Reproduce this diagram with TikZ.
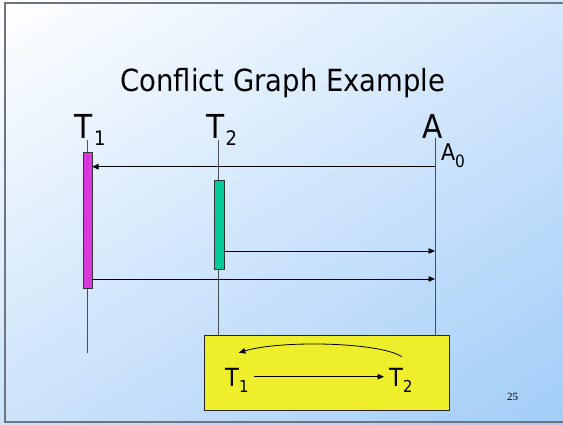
\documentclass[tikz,border=0pt]{standalone}
\usepackage{fontspec}
\setmainfont{DejaVu Sans Condensed}
\newfontfamily\numfont{Liberation Serif}
\usetikzlibrary{arrows.meta,shadings}
\definecolor{bgUL}{HTML}{FFFFFF}
\definecolor{bgUR}{HTML}{D4E8FC}
\definecolor{bgLL}{HTML}{CCE3FA}
\definecolor{bgLR}{HTML}{A2CDF8}
\definecolor{frameC}{HTML}{6E7580}
\definecolor{lifeC}{HTML}{4A4E55}
\definecolor{magC}{HTML}{DA38DA}
\definecolor{tealC}{HTML}{00CC99}
\definecolor{yelC}{HTML}{EEEE2A}
\newcommand\Tlab[6]{{\fontsize{#1}{#1}\selectfont #2}\kern#6pt{\fontsize{#3}{#3}\selectfont\raisebox{-#5pt}{#4}}}
\tikzset{
  lbl/.style={inner sep=0pt, outer sep=0pt, anchor=base west},
  life/.style={draw=lifeC, line width=1pt},
  bar/.style={draw=black!80, line width=0.8pt, inner sep=0pt, outer sep=0pt},
  arr/.style={draw=black, line width=0.8pt, -{Triangle[length=6.5pt,width=5.5pt]}},
}
\begin{document}
\begin{tikzpicture}[x=1pt,y=-1pt]
\useasboundingbox (0,0) rectangle (563,424);
\shade[upper left=bgUL, upper right=bgUR, lower left=bgLL, lower right=bgLR] (0,0) rectangle (563,424);
\draw[frameC, line width=2pt] (563,2.5) -- (4.5,2.5) -- (4.5,422) -- (563,422);
% title
\node[inner sep=0pt, anchor=base, font=\fontsize{30.5}{36}\selectfont] (title) at (283,91) {Conflict Graph Example};
% lifeline labels
\node[lbl] (T1) at (74,138) {\Tlab{33}{T}{20}{1}{7}{2}};
\node[lbl] (T2) at (206,138) {\Tlab{33}{T}{20}{2}{7}{1.5}};
\node[lbl] (A) at (422,138) {\Tlab{33}{A}{20}{}{0}{0}};
\node[lbl] (A0) at (441,160.5) {\Tlab{23}{A}{17}{0}{7}{0}};
% lifeline coordinates
\coordinate (l1top) at (87,140);
\coordinate (l1bot) at (87,353);
\coordinate (l2top) at (218.5,140);
\coordinate (latop) at (435,138);
% graph box
\node[draw=black!85, line width=1pt, fill=yelC, minimum width=245pt, minimum height=75pt, inner sep=0pt] (box) at (326.5,372.5) {};
\draw[life] (l1top) -- (l1bot);
\draw[life] (l2top) -- (l2top |- box.north);
\draw[life] (latop) -- (latop |- box.north);
% bars
\node[bar, fill=magC, minimum width=9pt, minimum height=136pt] (m) at (87.5,220) {};
\node[bar, fill=tealC, minimum width=10pt, minimum height=88.5pt] (t) at (219,225) {};
% messages
\coordinate (r1) at (435,166.7);
\coordinate (r2) at (435,251);
\coordinate (r3) at (435,279);
\draw[arr] (r1) -- (r1 -| m.east);
\draw[arr] (r2 -| t.east) -- (r2);
\draw[arr] (r3 -| m.east) -- (r3);
% conflict graph
\node[lbl] (g1) at (225,386) {\Tlab{25}{T}{16.5}{1}{6}{0.5}};
\node[lbl] (g2) at (389,386) {\Tlab{25}{T}{16.5}{2}{6}{0.5}};
\coordinate (h) at (0,376.7);
\draw[arr] (g1.east |- h) ++(5,0) -- ([xshift=-5pt]g2.west |- h);
\draw[arr] ([shift={(1,-11)}]g2.north) .. controls (380,342) and (280,340) .. ([shift={(2,-15)}]g1.north);
% page number
\node[lbl, font=\numfont\fontsize{11}{12}\selectfont] (pg) at (507,400) {25};
\end{tikzpicture}
\end{document}
